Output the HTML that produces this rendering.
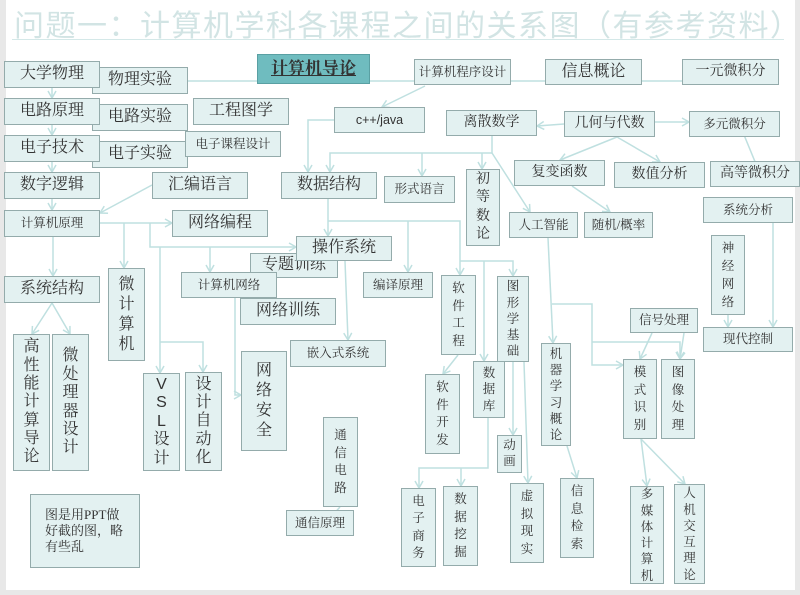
<!DOCTYPE html>
<html><head><meta charset="utf-8">
<style>
html,body{margin:0;padding:0;}
body{width:800px;height:595px;position:relative;overflow:hidden;background:#e8e8e8;font-family:"Liberation Serif","Noto Serif CJK SC",serif;}
#pg{position:absolute;left:6px;top:0;width:789px;height:590px;background:#fff;}
.t{position:absolute;left:14px;top:1px;font-size:30px;color:#d2e4e4;letter-spacing:1.5px;font-family:"Liberation Sans","Noto Sans CJK SC",sans-serif;white-space:nowrap;}
.ul{position:absolute;left:12px;top:39px;width:772px;height:1px;background:#d4e8e8;}
.b{position:absolute;box-sizing:border-box;background:#e3f1f1;border:1.5px solid #94abab;color:#333;display:flex;align-items:center;justify-content:center;text-align:center;font-size:16px;line-height:1.15;white-space:nowrap;}
.s{font-size:12.5px;}
.v{line-height:1.25;white-space:normal;}
svg{position:absolute;left:0;top:0;}
</style></head><body>
<div id="pg"></div>
<div class="t">问题一：计算机学科各课程之间的关系图（有参考资料）</div>
<div class="ul"></div>
<svg width="800" height="595">
<defs><marker id="a" markerWidth="10" markerHeight="10" refX="8" refY="5" orient="auto" markerUnits="userSpaceOnUse"><path d="M1,1 L8,5 L1,9" fill="none" stroke="#bfe0e0" stroke-width="1.5"/></marker></defs>
<g stroke="#bfe0e0" stroke-width="1.5" fill="none">
<path d="M52,88V98" marker-end="url(#a)"/><path d="M52,125V135" marker-end="url(#a)"/><path d="M52,162V172" marker-end="url(#a)"/><path d="M52,199V210" marker-end="url(#a)"/>
<path d="M188,81H682"/>
<path d="M425,86L382,107" marker-end="url(#a)"/>
<path d="M334,120H308V172" marker-end="url(#a)"/>
<path d="M492,136V153H330V172" marker-end="url(#a)"/><path d="M422,153V176" marker-end="url(#a)"/><path d="M482,153V169" marker-end="url(#a)"/>
<path d="M492,153L530,212" marker-end="url(#a)"/>
<path d="M564,124L537,126" marker-end="url(#a)"/><path d="M655,122H689" marker-end="url(#a)"/>
<path d="M617,137L560,160" marker-end="url(#a)"/><path d="M617,137L660,162" marker-end="url(#a)"/>
<path d="M765,186L735,113" marker-end="url(#a)"/>
<path d="M572,186L610,212" marker-end="url(#a)"/>
<path d="M152,185L100,213" marker-end="url(#a)"/>
<path d="M100,223H172" marker-end="url(#a)"/>
<path d="M150,223V247H296" marker-end="url(#a)"/>
<path d="M124,223V268" marker-end="url(#a)"/>
<path d="M160,247V373" marker-end="url(#a)"/>
<path d="M160,342H203V372" marker-end="url(#a)"/>
<path d="M53,237V276" marker-end="url(#a)"/>
<path d="M52,303L32,334" marker-end="url(#a)"/><path d="M52,303L70,334" marker-end="url(#a)"/>
<path d="M328,199V236" marker-end="url(#a)"/>
<path d="M328,221H460V275" marker-end="url(#a)"/><path d="M408,221V272" marker-end="url(#a)"/>
<path d="M460,261H513V276" marker-end="url(#a)"/><path d="M484,261V361" marker-end="url(#a)"/>
<path d="M210,247V272" marker-end="url(#a)"/>
<path d="M235,298V395H241" marker-end="url(#a)"/>
<path d="M345,261L348,340" marker-end="url(#a)"/>
<path d="M458,355L443,374" marker-end="url(#a)"/>
<path d="M488,418V468H419V488" marker-end="url(#a)"/><path d="M461,468V486" marker-end="url(#a)"/>
<path d="M513,362V435" marker-end="url(#a)"/><path d="M524,362L528,483" marker-end="url(#a)"/>
<path d="M548,238L553,343" marker-end="url(#a)"/>
<path d="M552,304H592V365H623" marker-end="url(#a)"/><path d="M592,342H680V359" marker-end="url(#a)"/>
<path d="M567,446L577,478" marker-end="url(#a)"/>
<path d="M652,333L640,359" marker-end="url(#a)"/><path d="M684,333L680,359" marker-end="url(#a)"/>
<path d="M728,315V327" marker-end="url(#a)"/><path d="M773,223V327" marker-end="url(#a)"/>
<path d="M641,439L647,486" marker-end="url(#a)"/><path d="M641,439L685,484" marker-end="url(#a)"/>
<path d="M340,507L330,518" marker-end="url(#a)"/>
</g></svg>
<div class="b" style="left:92px;top:67px;width:96px;height:27px">物理实验</div>
<div class="b" style="left:4px;top:61px;width:96px;height:27px">大学物理</div>
<div class="b" style="left:257px;top:54px;width:113px;height:30px;background:#6fbcbf;border-color:#5aa0a3;font-weight:bold;font-size:17px;text-decoration:underline">计算机导论</div>
<div class="b" style="left:92px;top:104px;width:96px;height:27px">电路实验</div>
<div class="b" style="left:4px;top:98px;width:96px;height:27px">电路原理</div>
<div class="b" style="left:193px;top:98px;width:96px;height:27px">工程图学</div>
<div class="b" style="left:92px;top:141px;width:96px;height:27px">电子实验</div>
<div class="b" style="left:4px;top:135px;width:96px;height:27px">电子技术</div>
<div class="b s" style="left:185px;top:131px;width:96px;height:26px">电子课程设计</div>
<div class="b" style="left:4px;top:172px;width:96px;height:27px">数字逻辑</div>
<div class="b" style="left:152px;top:172px;width:96px;height:27px">汇编语言</div>
<div class="b s" style="left:4px;top:210px;width:96px;height:27px">计算机原理</div>
<div class="b" style="left:172px;top:210px;width:96px;height:27px">网络编程</div>
<div class="b" style="left:281px;top:172px;width:96px;height:27px">数据结构</div>
<div class="b s" style="left:334px;top:107px;width:91px;height:26px;font-family:'Liberation Sans',sans-serif">c++/java</div>
<div class="b s" style="left:414px;top:59px;width:97px;height:26px">计算机程序设计</div>
<div class="b" style="left:545px;top:59px;width:97px;height:26px">信息概论</div>
<div class="b s" style="left:682px;top:59px;width:97px;height:26px;font-size:14px">一元微积分</div>
<div class="b s" style="left:446px;top:110px;width:91px;height:26px;font-size:14px">离散数学</div>
<div class="b s" style="left:564px;top:111px;width:91px;height:26px;font-size:14px">几何与代数</div>
<div class="b s" style="left:689px;top:111px;width:91px;height:26px">多元微积分</div>
<div class="b s" style="left:514px;top:160px;width:91px;height:26px;font-size:14px">复变函数</div>
<div class="b s" style="left:614px;top:162px;width:91px;height:26px;font-size:14px">数值分析</div>
<div class="b s" style="left:710px;top:161px;width:90px;height:26px;font-size:14px">高等微积分</div>
<div class="b s" style="left:384px;top:176px;width:71px;height:27px">形式语言</div>
<div class="b v" style="left:466px;top:169px;width:34px;height:77px;font-size:14px;line-height:1.3">初<br>等<br>数<br>论</div>
<div class="b s" style="left:509px;top:212px;width:69px;height:26px">人工智能</div>
<div class="b s" style="left:584px;top:212px;width:69px;height:26px">随机/概率</div>
<div class="b s" style="left:703px;top:197px;width:90px;height:26px">系统分析</div>
<div class="b v s" style="left:711px;top:235px;width:34px;height:80px;line-height:1.45">神<br>经<br>网<br>络</div>
<div class="b" style="left:250px;top:253px;width:88px;height:25px">专题训练</div>
<div class="b" style="left:296px;top:236px;width:96px;height:25px">操作系统</div>
<div class="b s" style="left:181px;top:272px;width:96px;height:26px">计算机网络</div>
<div class="b s" style="left:363px;top:272px;width:70px;height:26px">编译原理</div>
<div class="b" style="left:240px;top:298px;width:96px;height:27px">网络训练</div>
<div class="b s" style="left:290px;top:340px;width:96px;height:27px">嵌入式系统</div>
<div class="b" style="left:4px;top:276px;width:96px;height:27px">系统结构</div>
<div class="b v" style="left:108px;top:268px;width:37px;height:93px">微<br>计<br>算<br>机</div>
<div class="b v" style="left:13px;top:334px;width:37px;height:137px;line-height:1.15">高<br>性<br>能<br>计<br>算<br>导<br>论</div>
<div class="b v" style="left:52px;top:334px;width:37px;height:137px;line-height:1.15">微<br>处<br>理<br>器<br>设<br>计</div>
<div class="b v" style="left:143px;top:373px;width:37px;height:98px;font-family:'Liberation Sans','Noto Serif CJK SC',sans-serif;line-height:1.15">V<br>S<br>L<br>设<br>计</div>
<div class="b v" style="left:185px;top:372px;width:37px;height:99px;line-height:1.15">设<br>计<br>自<br>动<br>化</div>
<div class="b v" style="left:241px;top:351px;width:46px;height:100px">网<br>络<br>安<br>全</div>
<div class="b v s" style="left:323px;top:417px;width:35px;height:90px;line-height:1.4">通<br>信<br>电<br>路</div>
<div class="b s" style="left:286px;top:510px;width:68px;height:26px">通信原理</div>
<div class="b s" style="left:30px;top:494px;width:110px;height:74px;justify-content:flex-start;text-align:left;padding-left:14px;white-space:normal;line-height:1.25;font-size:13px">图是用PPT做<br>好截的图，略<br>有些乱</div>
<div class="b v s" style="left:441px;top:275px;width:35px;height:80px;line-height:1.4">软<br>件<br>工<br>程</div>
<div class="b v s" style="left:497px;top:276px;width:32px;height:86px;line-height:1.3">图<br>形<br>学<br>基<br>础</div>
<div class="b v s" style="left:473px;top:361px;width:32px;height:57px;line-height:1.3">数<br>据<br>库</div>
<div class="b v s" style="left:425px;top:374px;width:35px;height:80px;line-height:1.4">软<br>件<br>开<br>发</div>
<div class="b v s" style="left:541px;top:343px;width:30px;height:103px;line-height:1.3">机<br>器<br>学<br>习<br>概<br>论</div>
<div class="b s" style="left:630px;top:308px;width:68px;height:25px">信号处理</div>
<div class="b s" style="left:703px;top:327px;width:90px;height:25px">现代控制</div>
<div class="b v s" style="left:623px;top:359px;width:34px;height:80px;line-height:1.4">模<br>式<br>识<br>别</div>
<div class="b v s" style="left:661px;top:359px;width:34px;height:80px;line-height:1.4">图<br>像<br>处<br>理</div>
<div class="b v s" style="left:497px;top:435px;width:25px;height:38px">动<br>画</div>
<div class="b v s" style="left:401px;top:488px;width:35px;height:79px;line-height:1.4">电<br>子<br>商<br>务</div>
<div class="b v s" style="left:443px;top:486px;width:35px;height:80px;line-height:1.4">数<br>据<br>挖<br>掘</div>
<div class="b v s" style="left:510px;top:483px;width:34px;height:80px;line-height:1.4">虚<br>拟<br>现<br>实</div>
<div class="b v s" style="left:560px;top:478px;width:34px;height:80px;line-height:1.4">信<br>息<br>检<br>索</div>
<div class="b v s" style="left:630px;top:486px;width:34px;height:98px;line-height:1.3">多<br>媒<br>体<br>计<br>算<br>机</div>
<div class="b v s" style="left:674px;top:484px;width:31px;height:100px;line-height:1.3">人<br>机<br>交<br>互<br>理<br>论</div>
</body></html>
